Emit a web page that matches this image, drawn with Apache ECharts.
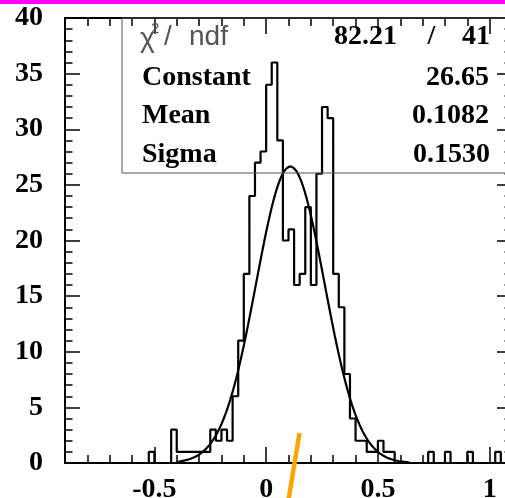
<!DOCTYPE html>
<html>
<head>
<meta charset="utf-8">
<script src="https://cdn.jsdelivr.net/npm/echarts@6/dist/echarts.min.js"></script>
<style>
html,body{margin:0;padding:0;background:#fff;}
#c{width:505px;height:498px;}
</style>
</head>
<body>
<div id="c"></div>
<script>
// ---- data ----
const binStart = -0.9;
const binWidth = 0.025;
const counts = [
  0,0,0,0,0,0,0,0,0,0,0,0,0,0,0,
  1,
  0,0,0,
  3,
  1,1,1,1,1,1,
  3,2,3,2,
  6,11,17,24,27,28,
  34,36,29,20,21,16,17,23,16,26,32,31,17,14,8,4,2,2,1,1,2,1,1,
  0,0,0,0,0,0,
  1,
  0,0,
  1,
  0,0,0,
  1,
  0,0,0,0,
  1,
  0,0
];
const fitConstant = 26.65;
const fitMean = 0.1082;
const fitSigma = 0.1530;
const fitRange = [-0.4, 0.64];
const chi2 = "82.21";
const ndf = "41";
const xMajorTicks = [-0.5, 0, 0.5, 1];
const xMinorTicks = [-0.8,-0.7,-0.6,-0.4,-0.3,-0.2,-0.1,0.1,0.2,0.3,0.4,0.6,0.7,0.8,0.9];
const yTickLabels = [0,5,10,15,20,25,30,35,40];

// ---- build series ----
const histData = [[binStart, 0]];
for (let k = 0; k < counts.length; k++) histData.push([binStart + k*binWidth, counts[k]]);
histData.push([binStart + counts.length*binWidth, counts[counts.length-1]]);

const fitData = [];
const N = 300;
for (let i = 0; i <= N; i++) {
  const x = fitRange[0] + (fitRange[1]-fitRange[0])*i/N;
  const z = (x - fitMean)/fitSigma;
  fitData.push([x, fitConstant*Math.exp(-0.5*z*z)]);
}

const serif = '"Liberation Serif", "Times New Roman", serif';
const labelFont = {fontFamily: serif, fontWeight: 'bold', fontSize: 28, color: '#000'};
const blackLine = {color: '#000', width: 2};

function xAx(pos, ticks, len, showLine, showLabel) {
  return {
    type: 'value', position: pos, min: -0.9, max: 1.1,
    axisLine: {show: showLine, onZero: false, lineStyle: blackLine},
    axisTick: {show: true, inside: true, length: len, customValues: ticks, lineStyle: {color:'#000', width: 1.5}},
    axisLabel: showLabel ? Object.assign({show: true, margin: 13, customValues: xMajorTicks,
      formatter: v => String(v)}, labelFont) : {show: false},
    splitLine: {show: false}
  };
}
function yAx(pos, showLabel) {
  return {
    type: 'value', position: pos, min: 0, max: 40, interval: 5,
    axisLine: {show: true, onZero: false, lineStyle: blackLine},
    axisTick: {show: true, inside: true, length: 15, lineStyle: {color:'#000', width: 1.5}},
    minorTick: {show: true, splitNumber: 5, length: 7.5, lineStyle: {color:'#000', width: 1.5}},
    axisLabel: showLabel ? Object.assign({show: true, margin: 22,
      customValues: yTickLabels}, labelFont) : {show: false},
    splitLine: {show: false}, minorSplitLine: {show: false}
  };
}

const textFont = 'bold 28px ' + serif;
function txt(x, y, s, align) {
  return {type: 'text', x: x, y: y, z: 10,
    style: {text: s, font: textFont, fill: '#000', align: align, verticalAlign: 'middle'}};
}
const sansFont = '28px "Liberation Sans", Arial, sans-serif';

const chart = echarts.init(document.getElementById('c'), null, {renderer: 'canvas'});
chart.setOption({
  animation: false,
  backgroundColor: '#fff',
  grid: {left: 65, top: 18, width: 447, height: 445, containLabel: false, outerBoundsMode: 'none'},
  xAxis: [
    xAx('bottom', xMajorTicks, 16, true, true),
    xAx('bottom', xMinorTicks, 8, false, false),
    xAx('top', xMajorTicks, 16, true, false),
    xAx('top', xMinorTicks, 8, false, false)
  ],
  yAxis: [yAx('left', true), yAx('right', false)],
  series: [
    {type: 'line', data: histData, step: 'end', symbol: 'none',
     lineStyle: {color: '#000', width: 2.2}, z: 3, clip: true},
    {type: 'line', data: fitData, symbol: 'none', smooth: false,
     lineStyle: {color: '#000', width: 2.2}, z: 4, clip: true}
  ],
  graphic: [
    {type: 'rect', z: 20, shape: {x: 0, y: 0, width: 505, height: 4}, style: {fill: '#ff00ff'}},
    {type: 'rect', z: 5, shape: {x: 122, y: 18, width: 420, height: 155},
     style: {fill: 'none', stroke: '#555', lineWidth: 1}},
    {type: 'text', x: 140, y: 39, z: 10, style: {text: 'χ', font: sansFont, fill: '#555', align: 'left', verticalAlign: 'middle'}},
    {type: 'text', x: 151, y: 29, z: 10, style: {text: '2', font: '15px "Liberation Sans", Arial, sans-serif', fill: '#555', align: 'left', verticalAlign: 'middle'}},
    {type: 'text', x: 164, y: 37, z: 10, style: {text: '/', font: sansFont, fill: '#555', align: 'left', verticalAlign: 'middle'}},
    {type: 'text', x: 189, y: 37, z: 10, style: {text: 'ndf', font: sansFont, fill: '#555', align: 'left', verticalAlign: 'middle'}},
    txt(397, 37, chi2, 'right'),
    txt(431.5, 37, '/', 'center'),
    txt(490, 37, ndf, 'right'),
    txt(142, 78, 'Constant', 'left'),
    txt(489, 78, fitConstant.toFixed(2), 'right'),
    txt(142, 115.5, 'Mean', 'left'),
    txt(489, 115.5, fitMean.toFixed(4), 'right'),
    txt(142, 154.5, 'Sigma', 'left'),
    txt(490, 154.5, fitSigma.toFixed(4), 'right'),
    {type: 'line', z: 30, shape: {x1: 299.5, y1: 433, x2: 288.5, y2: 500},
     style: {stroke: '#ffa500', lineWidth: 4.5}}
  ]
});
</script>
</body>
</html>
